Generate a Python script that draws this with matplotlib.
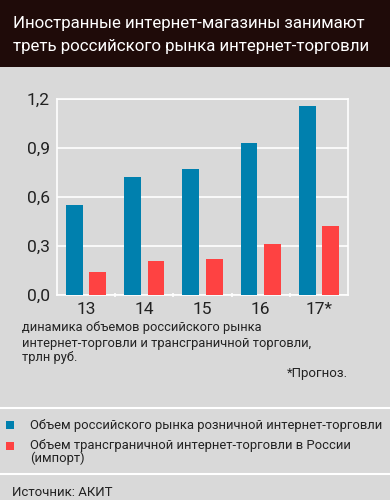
import matplotlib
matplotlib.use("Agg")
import matplotlib.pyplot as plt
from matplotlib.patches import Rectangle
from matplotlib.lines import Line2D
import numpy as np

plt.rcParams["font.family"] = ["Roboto", "DejaVu Sans"]

YEARS = ["13", "14", "15", "16", "17*"]
DOMESTIC = [0.55, 0.72, 0.77, 0.93, 1.16]
CROSS_BORDER = [0.14, 0.21, 0.22, 0.31, 0.42]
Y_TICKS = [0.0, 0.3, 0.6, 0.9, 1.2]

TITLE = "Иностранные интернет-магазины занимают\nтреть российского рынка интернет-торговли"
NOTE = "динамика объемов российского рынка\nинтернет-торговли и трансграничной торговли,\nтрлн руб."
FORECAST = "*Прогноз."
LEGEND = ["Объем российского рынка розничной интернет-торговли",
          "Объем трансграничной интернет-торговли в России\n(импорт)"]
SOURCE = "Источник: АКИТ"

BG = "#d9d9d9"
BAND = "#1f0b09"
BLUE = "#0080ae"
RED = "#fe4242"
INK = "#222222"

W, H = 390, 500
fig = plt.figure(figsize=(W / 100, H / 100), dpi=100, facecolor=BG)


def fx(px):
    return px / W


def fy(py):
    return 1 - py / H


# title band
fig.patches.append(Rectangle((0, fy(67)), 1, 1 - fy(67), transform=fig.transFigure,
                             facecolor=BAND, edgecolor="none", zorder=0))
fig.text(fx(13), fy(35), TITLE, color="white", fontsize=12.2, va="center", ha="left",
         linespacing=1.6)

ax = fig.add_axes([fx(57), fy(295), fx(348) - fx(57), fy(99) - fy(295)])
ax.set_facecolor(BG)
x = np.arange(len(YEARS))
ax.bar(x - 0.2, DOMESTIC, width=0.29, color=BLUE, zorder=3)
ax.bar(x + 0.2, CROSS_BORDER, width=0.29, color=RED, zorder=3)

ax.set_xlim(-0.5, len(YEARS) - 0.5)
ax.set_ylim(0, 1.2)
ax.set_yticks(Y_TICKS)
ax.set_yticklabels([f"{v:.1f}".replace(".", ",") for v in Y_TICKS], fontsize=12.5, color=INK)
ax.set_xticks(x)
ax.set_xticklabels(YEARS, fontsize=12.5, color=INK)
ax.set_xticks(x[:-1] + 0.5, minor=True)
ax.tick_params(axis="both", which="major", length=0, pad=5)
ax.tick_params(axis="x", which="minor", length=3, color="white", width=1.2, direction="inout")
ax.yaxis.grid(True, color="white", linewidth=1.2, zorder=1)
for s in ax.spines.values():
    s.set_color("white")
    s.set_linewidth(1.2)
    s.set_zorder(2)

fig.text(fx(22), fy(343), NOTE, fontsize=9.3, va="center", ha="left", color=INK,
         linespacing=1.2)
fig.text(fx(348), fy(373), FORECAST, fontsize=9.5, va="center", ha="right", color=INK)

# separators
for py in (408, 474):
    fig.add_artist(Line2D([0, 1], [fy(py), fy(py)], transform=fig.transFigure,
                          color="white", linewidth=1.5))

fig.patches.append(Rectangle((fx(6), fy(429)), fx(8), 8 / H, transform=fig.transFigure,
                             facecolor=BLUE, edgecolor="none"))
fig.text(fx(30), fy(425), LEGEND[0], fontsize=9.4, va="center", ha="left", color=INK)
fig.patches.append(Rectangle((fx(6), fy(450)), fx(8), 8 / H, transform=fig.transFigure,
                             facecolor=RED, edgecolor="none"))
fig.text(fx(30), fy(439), LEGEND[1], fontsize=9.4, va="top", ha="left", color=INK,
         linespacing=1.0)

fig.text(fx(12), fy(492), SOURCE, fontsize=9.5, va="center", ha="left", color=INK)

fig.savefig("out.png", dpi=100, facecolor=BG)
